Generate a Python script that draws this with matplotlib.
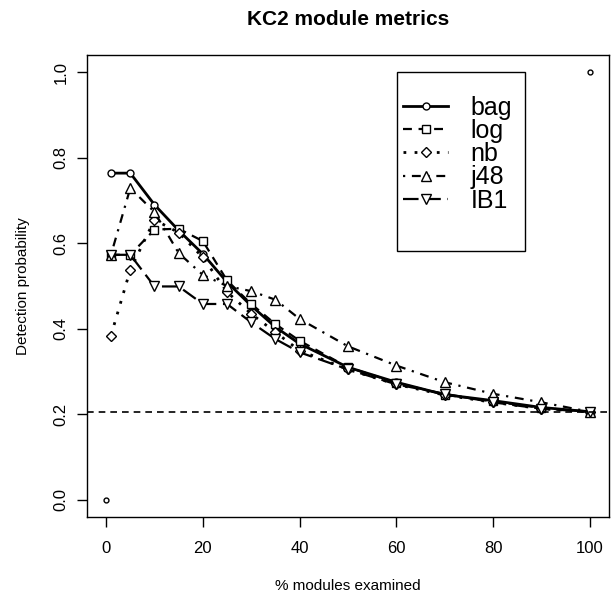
import matplotlib
matplotlib.use("Agg")
import matplotlib.pyplot as plt
from matplotlib.patches import Rectangle

# % of modules examined
pct = [1, 5, 10, 15, 20, 25, 30, 35, 40, 50, 60, 70, 80, 90, 100]

bag = [0.764, 0.764, 0.690, 0.630, 0.575, 0.509, 0.454, 0.404, 0.365, 0.310, 0.275, 0.246, 0.232, 0.216, 0.206]
log = [0.573, 0.573, 0.632, 0.634, 0.605, 0.513, 0.458, 0.411, 0.372, 0.310, 0.274, 0.246, 0.230, 0.215, 0.206]
nb = [0.384, 0.538, 0.655, 0.625, 0.567, 0.486, 0.435, 0.392, 0.349, 0.305, 0.270, 0.245, 0.228, 0.213, 0.206]
j48 = [0.573, 0.729, 0.673, 0.577, 0.526, 0.500, 0.488, 0.468, 0.423, 0.359, 0.314, 0.275, 0.248, 0.228, 0.206]
ib1 = [0.573, 0.573, 0.499, 0.499, 0.458, 0.458, 0.415, 0.376, 0.345, 0.305, 0.270, 0.248, 0.228, 0.213, 0.206]

# corner points and baseline
corner_x = [0, 100]
corner_y = [0.0, 1.0]
baseline = 0.206

plt.rcParams['font.family'] = ['Liberation Sans', 'DejaVu Sans']

fig = plt.figure(figsize=(6.11, 5.99), dpi=100)
ax = fig.add_axes([0.142, 0.137, 0.855, 0.771])

mk = dict(markerfacecolor='white', markeredgecolor='black', markeredgewidth=1.0, color='black')
ax.plot(pct, bag, linestyle='-', linewidth=2.0, marker='o', markersize=5, label='bag', **mk)
ax.plot(pct, log, linestyle=(0, (4, 3)), linewidth=1.6, marker='s', markersize=6, label='log', **mk)
ax.plot(pct, nb, linestyle=(0, (1, 3)), linewidth=2.0, marker='D', markersize=5.5, label='nb', **mk)
ax.plot(pct, j48, linestyle=(0, (1, 3, 4, 3)), linewidth=1.6, marker='^', markersize=7, label='j48', **mk)
ax.plot(pct, ib1, linestyle=(0, (7, 3)), linewidth=1.6, marker='v', markersize=7, label='IB1', **mk)

ax.plot(corner_x, corner_y, linestyle='none', marker='o', markersize=3.5, **mk)
ax.axhline(baseline, color='black', linestyle=(0, (4, 3)), linewidth=1.2)

ax.set_xlim(-4, 104)
ax.set_ylim(-0.04, 1.04)
ax.set_xticks([0, 20, 40, 60, 80, 100])
ax.set_yticks([0.0, 0.2, 0.4, 0.6, 0.8, 1.0])
ax.set_yticklabels(['0.0', '0.2', '0.4', '0.6', '0.8', '1.0'], rotation=90, va='center')
ax.tick_params(direction='out', length=7, width=1, labelsize=12)
ax.tick_params(axis='x', pad=10)
ax.tick_params(axis='y', pad=6)
for s in ax.spines.values():
    s.set_linewidth(1)

ax.set_xlabel('% modules examined', fontsize=11, labelpad=17)
ax.set_ylabel('Detection probability', fontsize=11, labelpad=17)
ax.set_title('KC2 module metrics', fontsize=15, fontweight='bold', pad=22)

# legend box drawn separately (R style padding)
ax.add_patch(Rectangle((0.594, 0.576), 0.245, 0.387, transform=ax.transAxes,
                       facecolor='white', edgecolor='black', linewidth=1, zorder=4))
leg = ax.legend(loc='upper left', bbox_to_anchor=(0.6056, 0.912), fontsize=18,
                handlelength=1.8, labelspacing=-0.03, handletextpad=0.9,
                borderpad=0, borderaxespad=0, frameon=False)
leg.set_zorder(5)

fig.savefig('out.png', dpi=100)
plt.close(fig)
